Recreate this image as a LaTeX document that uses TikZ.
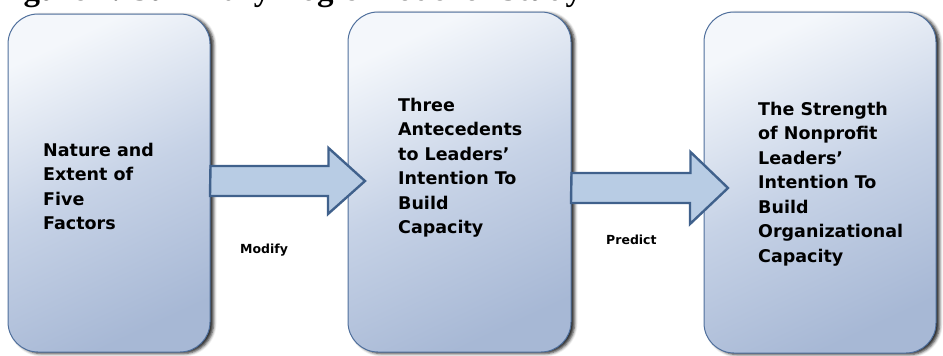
\documentclass[tikz,border=0pt]{standalone}
\usepackage{fontspec}
\setmainfont{Liberation Serif}
\newfontfamily\boxfont{DejaVu Sans}
\usetikzlibrary{calc,shadows.blur}
\definecolor{boxline}{HTML}{4F6F9C}
\definecolor{boxtop}{HTML}{F4F7FB}
\definecolor{boxmid}{HTML}{C6D2E6}
\definecolor{boxbottom}{HTML}{A7B8D5}
\definecolor{arrowfill}{HTML}{B8CCE4}
\definecolor{arrowline}{HTML}{40618C}
\begin{document}
\begin{tikzpicture}[x=1pt,y=1pt,
  stage/.style={draw=boxline, line width=1pt, rounded corners=30pt, inner sep=0pt,
    top color=boxtop, bottom color=boxbottom, middle color=boxmid, shading angle=25,
    blur shadow={shadow xshift=3.5pt, shadow yshift=-1.5pt, shadow blur radius=3pt, shadow opacity=85}},
  stagetext/.style={anchor=north west, inner sep=0pt, align=left,
    font=\boxfont\bfseries\fontsize{17.5}{24.5}\selectfont},
  verb/.style={anchor=base west, inner sep=0pt, font=\boxfont\bfseries\fontsize{12.5}{14}\selectfont},
  blockarrow/.style={draw=arrowline, fill=arrowfill, line width=2.4pt, line join=miter}
]
\useasboundingbox (0,0) rectangle (943,-356);

% title (cut off at the top edge)
\node[anchor=base west, inner sep=0pt, font=\bfseries\fontsize{33}{38}\selectfont] (title) at (-6,-0.5) {Figure 1. Summary Logic Model of Study};

% boxes
\node[stage, minimum width=202pt, minimum height=338pt] (A) at (109,-183) {};
\node[stage, minimum width=223pt, minimum height=340pt] (B) at (459.5,-182) {};
\node[stage, minimum width=232pt, minimum height=341pt] (C) at (820,-182.5) {};

% arrows
\coordinate (tipAB) at (365,-181);
\draw[blockarrow] ($(A.east |- tipAB)+(0,15)$) -- ++(118,0) -- ++(0,18) -- (tipAB)
  -- ++(-37,-33) -- ++(0,18) -- ++(-118,0) -- cycle;
\coordinate (tipBC) at (728,-188);
\draw[blockarrow] ($(B.east |- tipBC)+(0,15)$) -- ++(119,0) -- ++(0,21) -- (tipBC)
  -- ++(-38,-36) -- ++(0,21) -- ++(-119,0) -- cycle;

% texts
\node[stagetext] (tA) at (43,-143) {Nature and\\Extent of\\Five\\Factors};
\node[stagetext] (tB) at (398,-98) {Three\\Antecedents\\to Leaders’\\Intention To\\Build\\Capacity};
\node[stagetext] (tC) at (758,-102) {The Strength\\of Nonprofit\\Leaders’\\Intention To\\Build\\Organizational\\Capacity};

\node[verb] (mod) at (240,-253) {Modify};
\node[verb] (pred) at (606,-244) {Predict};
\end{tikzpicture}
\end{document}
